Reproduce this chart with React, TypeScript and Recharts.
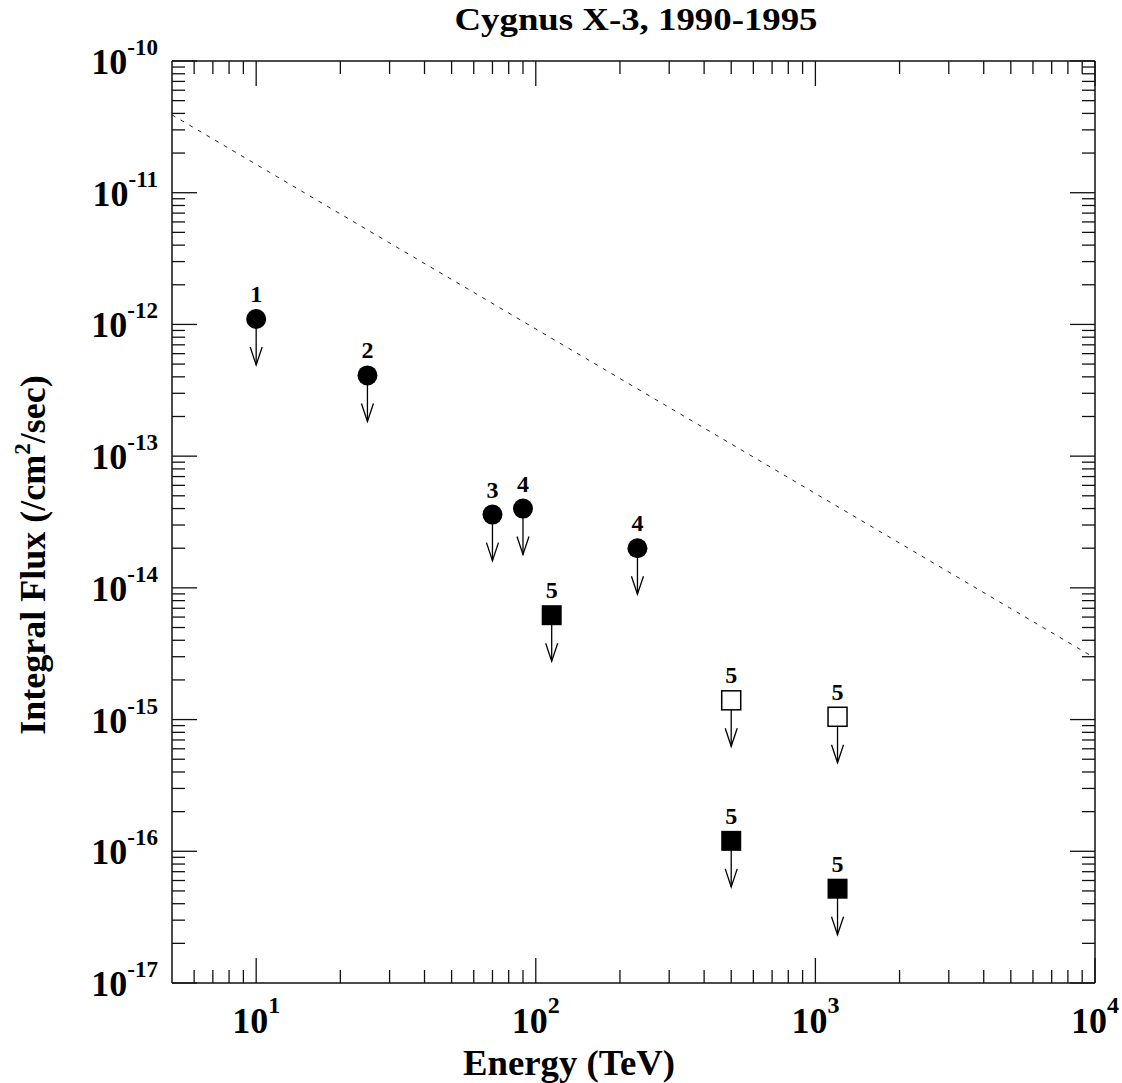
import { Scatter, ScatterChart, XAxis, YAxis } from "recharts";

const energy = [10, 25, 70, 90, 231, 114, 500, 1200, 500, 1200];
const flux = [1.1e-12, 4.1e-13, 3.6e-14, 4.0e-14, 2.0e-14, 6.2e-15, 1.4e-15, 1.05e-15, 1.2e-16, 5.2e-17];
const refs = ["1", "2", "3", "4", "4", "5", "5", "5", "5", "5"];
const markers = ["circle", "circle", "circle", "circle", "circle", "square", "open", "open", "square", "square"];

const lineEnergy = [5, 10000];
const lineFlux = [3.9e-11, 2.93e-15];

const xMajor = [10, 100, 1000, 10000];
const yMajor = [1e-17, 1e-16, 1e-15, 1e-14, 1e-13, 1e-12, 1e-11, 1e-10];
const mults = [2, 3, 4, 5, 6, 7, 8, 9];

const xTicks = [6, 7, 8, 9, ...xMajor.slice(0, 3).flatMap((d) => mults.map((m) => m * d)), ...xMajor].sort((a, b) => a - b);
const yTicks = [...yMajor.slice(0, 7).flatMap((d) => mults.map((m) => m * d)), ...yMajor].sort((a, b) => a - b);

const points = energy.map((e, i) => ({ e, f: flux[i], ref: refs[i], marker: markers[i] }));
const powerLaw = lineEnergy.map((e, i) => ({ e, f: lineFlux[i] }));

const FONT = "'Liberation Serif', 'Times New Roman', serif";
const INK = "#111";

const isMajor = (v: number) => Math.abs(Math.log10(v) - Math.round(Math.log10(v))) < 1e-6;
const expOf = (v: number) => Math.round(Math.log10(v));

const BottomTick = ({ x, y, payload }: any) => {
  const major = isMajor(payload.value);
  return (
    <g>
      <line x1={x} x2={x} y1={y} y2={y - (major ? 25 : 13)} stroke={INK} strokeWidth={1.3} />
      {major && (
        <text x={x} y={y + 50} textAnchor="middle" fontFamily={FONT} fontWeight="bold" fontSize={36} fill="#000">
          <tspan>10</tspan>
          <tspan dy={-20} fontSize={24}>{expOf(payload.value)}</tspan>
        </text>
      )}
    </g>
  );
};

const TopTick = ({ x, y, payload }: any) => {
  const major = isMajor(payload.value);
  return <line x1={x} x2={x} y1={y} y2={y + (major ? 25 : 13)} stroke={INK} strokeWidth={1.3} />;
};

const LeftTick = ({ x, y, payload }: any) => {
  const major = isMajor(payload.value);
  return (
    <g>
      <line x1={x} x2={x + (major ? 25 : 13)} y1={y} y2={y} stroke={INK} strokeWidth={1.3} />
      {major && (
        <text x={x - 14} y={y + 13} textAnchor="end" fontFamily={FONT} fontWeight="bold" fontSize={36} fill="#000">
          <tspan>10</tspan>
          <tspan dy={-19} fontSize={23}>{expOf(payload.value)}</tspan>
        </text>
      )}
    </g>
  );
};

const RightTick = ({ x, y, payload }: any) => {
  const major = isMajor(payload.value);
  return <line x1={x} x2={x - (major ? 25 : 13)} y1={y} y2={y} stroke={INK} strokeWidth={1.3} />;
};

const LimitMarker = ({ cx, cy, payload }: any) => {
  if (cx == null || cy == null) return <g />;
  const tip = cy + 46;
  return (
    <g>
      <line x1={cx} x2={cx} y1={cy} y2={tip} stroke="#000" strokeWidth={1.3} />
      <polyline points={`${cx - 6},${cy + 28} ${cx},${tip} ${cx + 6},${cy + 28}`} fill="none" stroke="#000" strokeWidth={1.3} />
      {payload.marker === "circle" && <circle cx={cx} cy={cy} r={10} fill="#000" />}
      {payload.marker === "square" && <rect x={cx - 10} y={cy - 10} width={20} height={20} fill="#000" />}
      {payload.marker === "open" && (
        <rect x={cx - 9.5} y={cy - 9.5} width={19} height={19} fill="#fff" stroke="#000" strokeWidth={1.5} />
      )}
      <text x={cx} y={cy - 17} textAnchor="middle" fontFamily={FONT} fontWeight="bold" fontSize={24} fill="#000">
        {payload.ref}
      </text>
    </g>
  );
};

const axisLine = { stroke: INK, strokeWidth: 1.5 };

export default function App() {
  return (
    <div style={{ position: "absolute", left: 0, top: 0, width: 1122, height: 1083, background: "#fff" }}>
      <ScatterChart width={1122} height={1083} margin={{ top: 60, right: 26, bottom: 99, left: 171 }}>
        <XAxis
          xAxisId="bottom"
          dataKey="e"
          type="number"
          scale="log"
          domain={[5, 10000]}
          allowDataOverflow
          ticks={xTicks}
          interval={0}
          height={1}
          tickSize={0}
          tickMargin={0}
          tickLine={false}
          axisLine={axisLine}
          tick={<BottomTick />}
        />
        <XAxis
          xAxisId="top"
          orientation="top"
          dataKey="e"
          type="number"
          scale="log"
          domain={[5, 10000]}
          allowDataOverflow
          ticks={xTicks}
          interval={0}
          height={1}
          tickSize={0}
          tickMargin={0}
          tickLine={false}
          axisLine={axisLine}
          tick={<TopTick />}
        />
        <YAxis
          yAxisId="left"
          dataKey="f"
          type="number"
          scale="log"
          domain={[1e-17, 1e-10]}
          allowDataOverflow
          ticks={yTicks}
          interval={0}
          width={1}
          tickSize={0}
          tickMargin={0}
          tickLine={false}
          axisLine={axisLine}
          tick={<LeftTick />}
        />
        <YAxis
          yAxisId="right"
          orientation="right"
          dataKey="f"
          type="number"
          scale="log"
          domain={[1e-17, 1e-10]}
          allowDataOverflow
          ticks={yTicks}
          interval={0}
          width={1}
          tickSize={0}
          tickMargin={0}
          tickLine={false}
          axisLine={axisLine}
          tick={<RightTick />}
        />
        <Scatter
          xAxisId="bottom"
          yAxisId="left"
          data={powerLaw}
          line={{ stroke: "#222", strokeWidth: 1, strokeDasharray: "4 6" }}
          lineType="joint"
          shape={() => <g />}
          isAnimationActive={false}
        />
        <Scatter
          xAxisId="top"
          yAxisId="right"
          data={points}
          shape={() => <g />}
          isAnimationActive={false}
        />
        <Scatter
          xAxisId="bottom"
          yAxisId="left"
          data={points}
          shape={<LimitMarker />}
          isAnimationActive={false}
        />
      </ScatterChart>
      <svg width={1122} height={1083} style={{ position: "absolute", left: 0, top: 0, pointerEvents: "none" }}>
        <text x={636} y={30} textAnchor="middle" fontFamily={FONT} fontWeight="bold" fontSize={32} textLength={363} lengthAdjust="spacingAndGlyphs" fill="#000">
          Cygnus X-3, 1990-1995
        </text>
        <text x={569} y={1075} textAnchor="middle" fontFamily={FONT} fontWeight="bold" fontSize={35} textLength={212} lengthAdjust="spacingAndGlyphs" fill="#000">
          Energy (TeV)
        </text>
        <text
          x={45}
          y={555}
          transform="rotate(-90 45 555)"
          textAnchor="middle"
          fontFamily={FONT}
          fontWeight="bold"
          fontSize={36}
          fill="#000"
        >
          <tspan>Integral Flux (/cm</tspan>
          <tspan dy={-15} fontSize={23}>2</tspan>
          <tspan dy={15}>/sec)</tspan>
        </text>
      </svg>
    </div>
  );
}
